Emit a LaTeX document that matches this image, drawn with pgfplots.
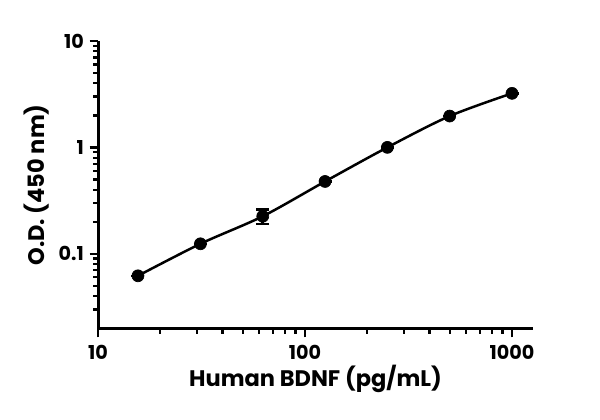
\documentclass[border=0pt]{standalone}
\usepackage{fontspec}
\setmainfont{Poppins}
\usepackage{pgfplots}
\pgfplotsset{compat=1.18}

% standard curve, mean OD at 450 nm
\pgfplotstableread{
conc  od     err
15.6  0.062  0
31.25 0.124  0
62.5  0.225  0.035
125   0.478  0
250   1.00   0
500   1.97   0
1000  3.22   0
}\stdcurve

\begin{document}
\begin{tikzpicture}
  \useasboundingbox (-58.8pt,-54.6pt) rectangle (301.2pt,197.4pt);
  \begin{axis}[
    scale only axis,
    width=261pt, height=172.8pt,
    xmode=log, ymode=log,
    log basis x=10, log basis y=10,
    xmin=10, xmax=1263,
    ymin=0.0196, ymax=10,
    axis lines=left,
    axis line style={-, line width=1.8pt},
    xtick={10,100,1000}, xticklabels={10,100,1000},
    ytick={0.1,1,10}, yticklabels={0.1,1,10},
    minor xtick={20,30,40,50,60,70,80,90,200,300,400,500,600,700,800,900},
    minor ytick={0.03,0.04,0.05,0.06,0.07,0.08,0.09,0.2,0.3,0.4,0.5,0.6,0.7,0.8,0.9,2,3,4,5,6,7,8,9},
    tick align=outside,
    major tick length=5pt,
    minor tick length=3pt,
    every tick/.style={black, line width=1.4pt},
    tick label style={font=\bfseries\fontsize{11.5}{13}\selectfont},
    xticklabel style={yshift=-1pt},
    /pgf/number format/assume math mode=true,
    xlabel={\bfseries Human BDNF (pg/mL)},
    ylabel={\bfseries O.D. (450 nm)},
    label style={font=\bfseries\fontsize{13.5}{15}\selectfont},
    xlabel style={yshift=3pt},
    ylabel style={yshift=-1pt},
    clip=false,
  ]
    \addplot[black, line width=1.5pt, smooth, no markers] table[x=conc, y=od] {\stdcurve};
    \addplot[black, only marks, mark=*, mark size=3.6pt,
      error bars/.cd, y dir=both, y explicit,
      error bar style={line width=1.5pt},
      error mark options={rotate=90, mark size=3.9pt, line width=1.5pt}]
      table[x=conc, y=od, y error=err] {\stdcurve};
  \end{axis}
\end{tikzpicture}
\end{document}
